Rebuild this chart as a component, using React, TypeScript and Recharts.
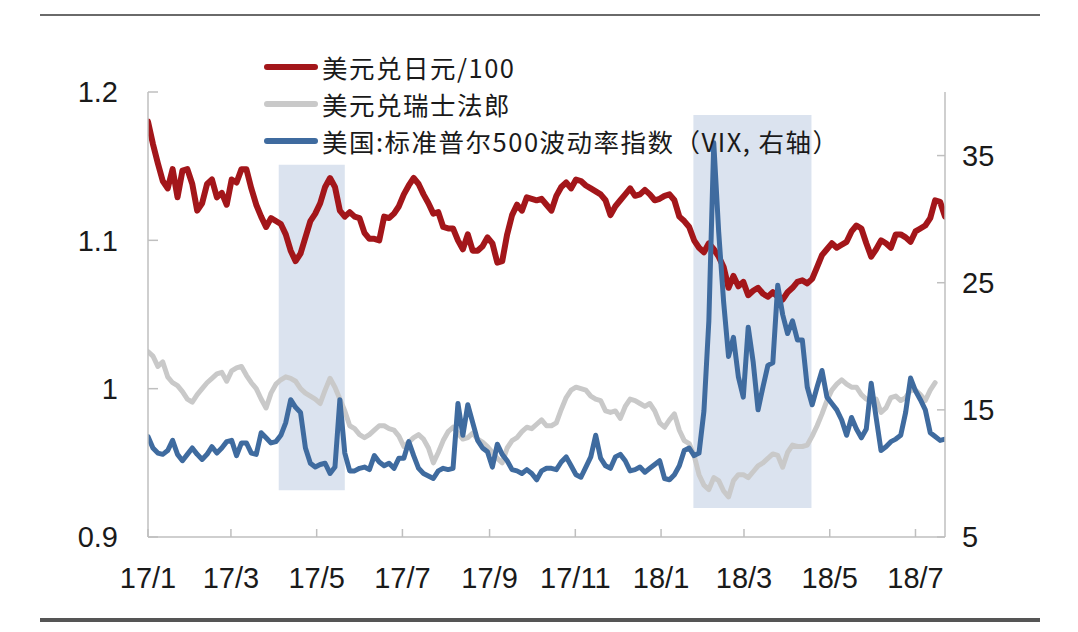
import React from 'react';
import { LineChart, Line, XAxis, YAxis, ReferenceArea, Legend } from 'recharts';

// twice-weekly samples (every 3.5 days) from 2017-01-01
const usdJpy = [
  1.180, 1.165, 1.152, 1.140, 1.135, 1.148, 1.129, 1.147, 1.148, 1.138,
  1.120, 1.125, 1.138, 1.141, 1.129, 1.132, 1.124, 1.141, 1.139, 1.148,
  1.148, 1.135, 1.124, 1.116, 1.109, 1.115, 1.113, 1.111, 1.104, 1.093,
  1.086, 1.091, 1.102, 1.113, 1.118, 1.125, 1.136, 1.142, 1.136, 1.120,
  1.116, 1.119, 1.116, 1.115, 1.105, 1.101, 1.101, 1.100, 1.116, 1.115,
  1.118, 1.123, 1.131, 1.137, 1.142, 1.138, 1.131, 1.125, 1.118, 1.119,
  1.109, 1.108, 1.108, 1.100, 1.094, 1.104, 1.093, 1.093, 1.096, 1.102,
  1.098, 1.085, 1.086, 1.104, 1.117, 1.124, 1.120, 1.129, 1.128, 1.127,
  1.128, 1.124, 1.120, 1.130, 1.136, 1.139, 1.135, 1.141, 1.140, 1.137,
  1.135, 1.133, 1.131, 1.127, 1.117, 1.123, 1.127, 1.131, 1.135, 1.130,
  1.131, 1.134, 1.131, 1.127, 1.128, 1.130, 1.131, 1.127, 1.116, 1.113,
  1.109, 1.100, 1.095, 1.092, 1.098, 1.094, 1.089, 1.082, 1.068, 1.076,
  1.069, 1.072, 1.063, 1.066, 1.068, 1.064, 1.062, 1.065, 1.062, 1.060,
  1.065, 1.068, 1.072, 1.073, 1.071, 1.074, 1.082, 1.090, 1.094, 1.098,
  1.095, 1.097, 1.099, 1.106, 1.110, 1.108, 1.098, 1.089, 1.094, 1.100,
  1.098, 1.095, 1.104, 1.104, 1.102, 1.099, 1.106, 1.108, 1.110, 1.115,
  1.127, 1.126, 1.116,
];

const usdChf = [
  1.025, 1.022, 1.015, 1.018, 1.008, 1.004, 1.002, 0.998, 0.993, 0.991,
  0.996, 1.000, 1.004, 1.007, 1.010, 1.011, 1.005, 1.012, 1.014, 1.015,
  1.009, 1.004, 1.000, 0.993, 0.987, 0.997, 1.003, 1.006, 1.008, 1.007,
  1.005, 1.000, 0.997, 0.995, 0.993, 0.990, 0.999, 1.007, 1.001, 0.993,
  0.985, 0.975, 0.973, 0.969, 0.967, 0.969, 0.972, 0.975, 0.975, 0.973,
  0.972, 0.968, 0.961, 0.964, 0.967, 0.969, 0.966, 0.960, 0.950, 0.957,
  0.965, 0.971, 0.974, 0.970, 0.966, 0.967, 0.970, 0.966, 0.964, 0.961,
  0.957, 0.953, 0.950, 0.960, 0.965, 0.967, 0.971, 0.974, 0.973, 0.976,
  0.979, 0.975, 0.975, 0.977, 0.986, 0.994, 0.999, 1.001, 1.000, 0.999,
  0.995, 0.993, 0.992, 0.985, 0.984, 0.985, 0.980, 0.988, 0.993, 0.992,
  0.990, 0.988, 0.990, 0.985, 0.977, 0.974, 0.979, 0.983, 0.972, 0.965,
  0.963, 0.955, 0.942, 0.935, 0.932, 0.940, 0.938, 0.931, 0.927, 0.938,
  0.942, 0.942, 0.940, 0.944, 0.948, 0.950, 0.953, 0.956, 0.955, 0.947,
  0.957, 0.962, 0.961, 0.961, 0.962, 0.968, 0.975, 0.983, 0.992, 0.999,
  1.003, 1.006, 1.003, 1.001, 1.001, 0.996, 0.993, 0.992, 0.993, 0.984,
  0.987, 0.994, 0.995, 0.992, 0.994, 0.999, 0.999, 0.996, 0.992, 0.999,
  1.004, null, null,
];

const vix = [
  12.9, 12.0, 11.6, 11.5, 11.8, 12.6, 11.5, 11.0, 11.5, 12.0,
  11.5, 11.1, 11.5, 12.1, 11.6, 12.0, 12.5, 12.6, 11.4, 12.4,
  12.4, 11.6, 11.5, 13.2, 12.8, 12.4, 12.5, 13.0, 14.0, 15.8,
  15.2, 14.8, 12.0, 10.8, 10.5, 10.7, 10.8, 10.0, 10.5, 15.8,
  11.6, 10.2, 10.2, 10.4, 10.5, 10.3, 11.4, 10.9, 10.6, 10.8,
  10.4, 11.2, 11.2, 12.5, 11.4, 10.4, 10.0, 9.8, 9.6, 10.2,
  10.4, 10.3, 10.4, 15.5, 13.0, 15.4, 14.0, 12.6, 12.0, 11.7,
  10.5, 12.3, 11.5, 11.0, 10.3, 10.2, 10.0, 10.3, 10.0, 9.5,
  10.2, 10.4, 10.4, 10.3, 10.9, 11.3, 10.6, 9.9, 9.7, 10.5,
  11.3, 13.0, 11.2, 10.6, 10.4, 11.3, 11.5, 11.0, 10.2, 10.3,
  10.5, 10.1, 10.4, 10.7, 11.0, 9.6, 9.5, 9.9, 10.6, 11.8,
  12.0, 11.4, 11.6, 14.9, 22.0, 36.0, 29.0, 23.5, 19.2, 20.7,
  17.6, 16.0, 21.5, 18.8, 15.0, 16.8, 18.5, 18.7, 24.8, 22.5,
  21.0, 22.0, 20.5, 20.5, 16.8, 15.4, 16.8, 18.1, 16.0, 15.5,
  15.0, 14.2, 13.0, 14.4, 13.5, 12.8, 13.5, 17.1, 14.4, 11.8,
  12.1, 12.5, 12.7, 13.0, 14.8, 17.5, 16.5, 15.8, 15.0, 13.2,
  12.9, 12.6, 12.7,
];

// days since 2017-01-01 for the month labels
const monthTicks = [0, 59, 120, 181, 243, 304, 365, 424, 485, 546];
const monthLabels = ['17/1', '17/3', '17/5', '17/7', '17/9', '17/11', '18/1', '18/3', '18/5', '18/7'];

const leftTicks = [0.9, 1, 1.1, 1.2];
const rightTicks = [5, 15, 25, 35];

// shaded periods: [startDay, endDay, bottom, top] on the left axis
const shadedPeriods = [
  [93, 140, 0.9316, 1.151],
  [388, 472, 0.9195, 1.1845],
];

const series = [
  { key: 'jpy', name: '美元兑日元/100', color: '#a3161a', width: 6, axis: 'left' },
  { key: 'chf', name: '美元兑瑞士法郎', color: '#c9c9c9', width: 5, axis: 'left' },
  { key: 'vix', name: '美国:标准普尔500波动率指数（VIX, 右轴）', color: '#3f6b9f', width: 5, axis: 'right' },
];

const data = usdJpy.map((v, i) => ({
  day: i * 3.5,
  jpy: v,
  chf: usdChf[i],
  vix: vix[i],
}));

const numFont = '"Liberation Sans", Arial, sans-serif';
const cjkFont = '"Noto Sans CJK SC", "Liberation Sans", sans-serif';
const axisColor = '#bfbfbf';

const LegendBox = () => (
  <div style={{ fontFamily: cjkFont, fontSize: 25.5, letterSpacing: 1.5, lineHeight: '37px', color: '#1a1a1a' }}>
    {series.map(s => (
      <div key={s.key} style={{ display: 'flex', alignItems: 'center', height: 37 }}>
        <span style={{ display: 'inline-block', width: 54, height: 6, borderRadius: 3, background: s.color, marginRight: 4 }} />
        <span style={{ whiteSpace: 'nowrap' }}>{s.name}</span>
      </div>
    ))}
  </div>
);

export default function App() {
  const tickStyle = { fontFamily: numFont, fontSize: 29, fill: '#1a1a1a' };
  return (
    <div style={{ position: 'absolute', left: 0, top: 0, width: 1078, height: 632, background: '#fff' }}>
      <div style={{ position: 'absolute', left: 40, top: 14, width: 1000, height: 2, background: '#6a6a6a' }} />
      <div style={{ position: 'absolute', left: 40, top: 618, width: 1000, height: 4, background: '#555' }} />
      <LineChart
        width={1078}
        height={632}
        data={data}
        margin={{ top: 92, right: 53, bottom: 45, left: 88 }}
      >
        <XAxis
          dataKey="day"
          type="number"
          domain={[0, 567]}
          ticks={monthTicks}
          interval={0}
          tickFormatter={(v: number) => monthLabels[monthTicks.indexOf(v)]}
          height={50}
          tick={tickStyle}
          tickSize={-8}
          tickMargin={38}
          stroke={axisColor}
          strokeWidth={1.5}
          allowDataOverflow
        />
        <YAxis
          yAxisId="left"
          domain={[0.9, 1.2]}
          ticks={leftTicks}
          width={60}
          tick={tickStyle}
          tickSize={-10}
          tickMargin={40}
          stroke={axisColor}
          strokeWidth={1.5}
          allowDataOverflow
        />
        <YAxis
          yAxisId="right"
          orientation="right"
          domain={[5, 40]}
          ticks={rightTicks}
          width={80}
          tick={{ ...tickStyle, textAnchor: 'start' }}
          tickSize={-8}
          tickMargin={25}
          stroke={axisColor}
          strokeWidth={1.5}
          allowDataOverflow
        />
        {shadedPeriods.map(([x1, x2, y1, y2], i) => (
          <ReferenceArea
            key={i}
            yAxisId="left"
            x1={x1}
            x2={x2}
            y1={y1}
            y2={y2}
            fill="#dbe3ef"
            fillOpacity={1}
            stroke="none"
          />
        ))}
        <Legend
          layout="vertical"
          align="center"
          verticalAlign="middle"
          content={() => <LegendBox />}
          wrapperStyle={{ left: 264, top: 48, width: 'auto' }}
        />
        {[series[1], series[0], series[2]].map(s => (
          <Line
            key={s.key}
            yAxisId={s.axis}
            dataKey={s.key}
            type="linear"
            stroke={s.color}
            strokeWidth={s.width}
            strokeLinejoin="round"
            strokeLinecap="round"
            dot={false}
            activeDot={false}
            connectNulls={false}
            isAnimationActive={false}
          />
        ))}
      </LineChart>
    </div>
  );
}
